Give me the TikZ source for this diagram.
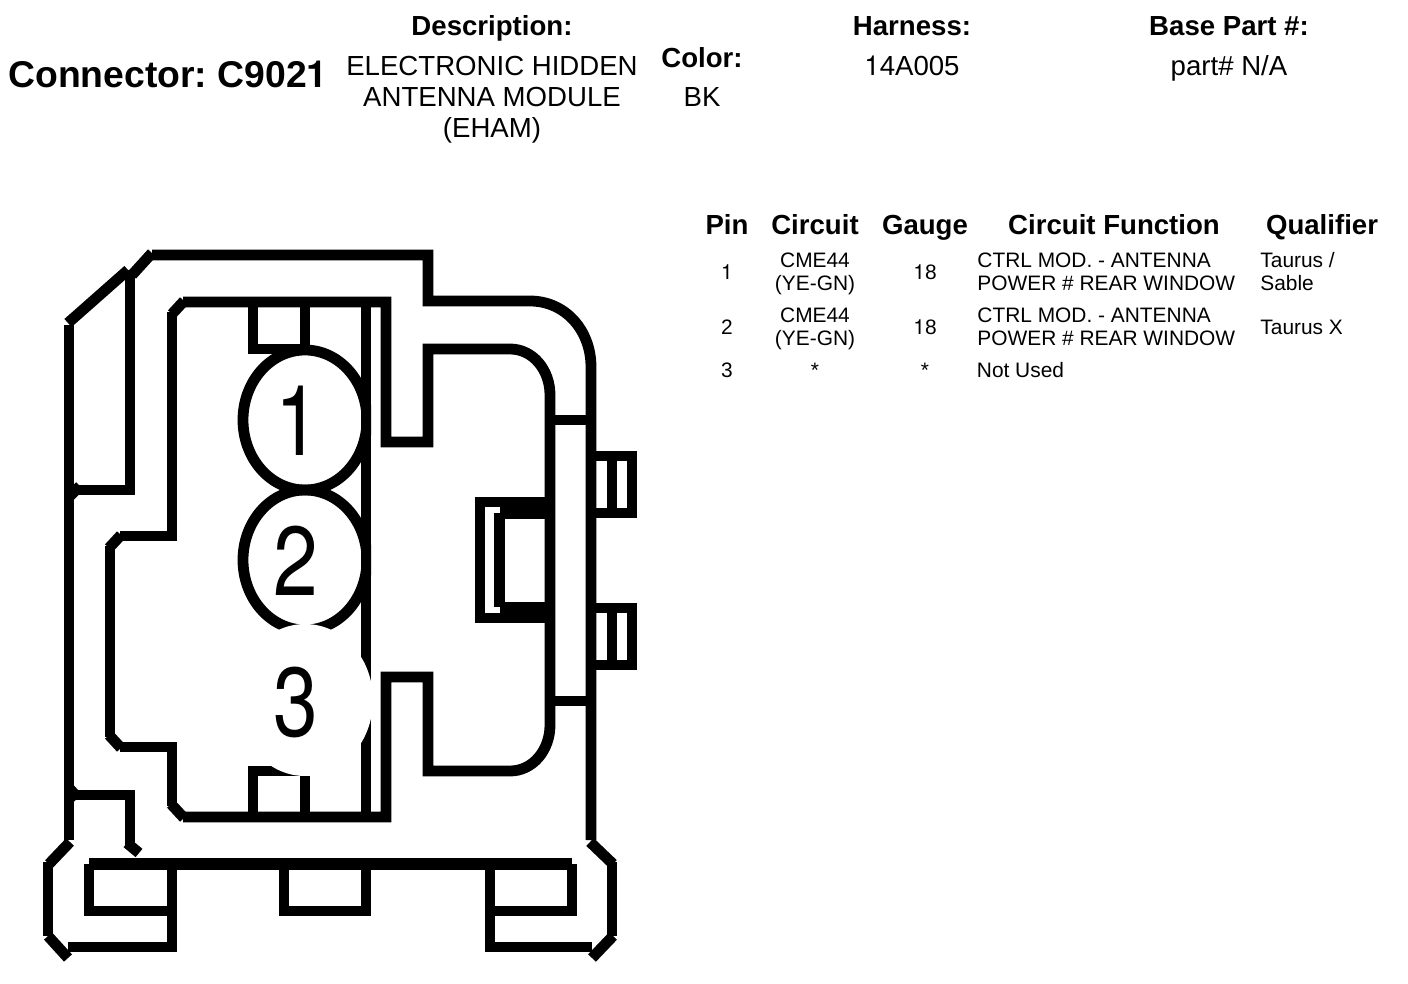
\documentclass[tikz,border=0pt]{standalone}
\usepackage{fontspec}
\setmainfont{Liberation Sans}
\newfontfamily\digitfont{TeX Gyre Heros}
\frenchspacing
\tikzset{
  wire/.style={line width=5.4pt,line join=miter},
  titletext/.style={anchor=base,font=\fontsize{18.65}{20}\selectfont\bfseries,inner sep=0pt},
  headtext/.style={anchor=base,font=\fontsize{13.8}{15}\selectfont\bfseries,inner sep=0pt},
  infotext/.style={anchor=base,font=\fontsize{13.8}{15}\selectfont,inner sep=0pt},
  celltext/.style={anchor=base,font=\fontsize{10.45}{12}\selectfont,inner sep=0pt},
  leftcell/.style={celltext,anchor=base west},
  pinnumber/.style={font=\digitfont\fontsize{49}{50}\selectfont,inner sep=0pt}
}
\begin{document}
\begin{tikzpicture}[x=0.5pt,y=-0.5pt]
    \useasboundingbox (0,0) rectangle (1408,984);

    % outer shell
    \draw[wire] (152,255) -- (428,255) -- (428,301) -- (530,301)
        .. controls (565,301) and (591,330) .. (591,367) -- (591,840);
    \draw[wire] (132,275) -- (152,253);
    \draw[wire] (68,323) -- (128,270);
    \draw[wire] (69,325) -- (69,840);
    \draw[wire] (590,842) -- (613,864);
    \draw[wire] (612,862) -- (612,936);
    \draw[wire] (613,936) -- (592,958);
    \draw[wire] (70,842) -- (49,864);
    \draw[wire] (48,862) -- (48,936);
    \draw[wire] (48,936) -- (68,958);

    % upper latch
    \draw[wire] (130,270) -- (130,490) -- (76,490);
    \draw[wire] (69,497) -- (80,486);

    % lower latch
    \draw[wire] (76,795) -- (130,795) -- (130,846);
    \draw[wire] (127,843) -- (139,853);
    \draw[wire] (69,788) -- (78,798);

    % inner outline
    \draw[wire] (183,302) -- (386,302) -- (386,442) -- (428,442) -- (428,349) -- (510,349)
        .. controls (533,349) and (550,370) .. (550,395) -- (550,725)
        .. controls (550,750) and (533,771) .. (510,771) -- (428,771)
        -- (428,677) -- (386,677) -- (386,817) -- (183,817);
    \draw[wire] (184,301) -- (172,314);
    \draw[wire] (172,312) -- (172,536) -- (120,536);
    \draw[wire] (121,535) -- (109,548);
    \draw[wire] (110,546) -- (110,737);
    \draw[wire] (109,735) -- (121,748);
    \draw[wire] (120,747) -- (172,747) -- (172,806);
    \draw[wire] (171,804) -- (184,818);

    % cavity wall and keys
    \draw[wire] (366,302) -- (366,817);
    \draw[wire] (253,302) -- (253,349) -- (300,349);
    \draw[wire] (305,302) -- (305,349);
    \draw[wire] (253,817) -- (253,771) -- (305,771);
    \draw[wire] (305,817) -- (305,771);

    % pin cavities
    \begin{scope}
        \clip (220,330) rectangle (371,650);
        \draw[wire] (305,420) ellipse (62 and 70);
        \draw[wire] (305,560) ellipse (62 and 70);
    \end{scope}
    \fill[white] (305,700) ellipse (68 and 76);
    \node[pinnumber] (pinone) at (298,421) {\scalebox{.82}[1]{1}};
    \node[pinnumber] (pintwo) at (296,561) {\scalebox{.82}[1]{2}};
    \node[pinnumber] (pinthree) at (296,702) {\scalebox{.82}[1]{3}};

    % side ribs and tabs
    \draw[wire] (550,420) -- (591,420);
    \draw[wire] (550,701) -- (591,701);
    \draw[wire] (591,456) -- (632,456) -- (632,513) -- (591,513);
    \draw[wire] (612,456) -- (612,513);
    \draw[wire] (591,608) -- (632,608) -- (632,665) -- (591,665);
    \draw[wire] (612,608) -- (612,665);

    % clip
    \draw[wire] (550,502) -- (480,502) -- (480,618) -- (550,618);
    \fill (500,502) rectangle (550,519);
    \fill (500,602) rectangle (550,618);
    \draw[line width=5.4pt] (499.5,513) -- (499.5,607);

    % bottom feet
    \draw[wire,line width=5.9pt] (89,864) -- (572,864);
    \draw[wire] (572,864) -- (572,911) -- (490,911);
    \draw[wire] (89,864) -- (89,911) -- (172,911);
    \draw[wire] (172,864) -- (172,947) -- (68,947);
    \draw[wire] (284,864) -- (284,911) -- (366,911) -- (366,864);
    \draw[wire] (490,864) -- (490,947) -- (592,947);

    % header
    \node[titletext] (connector) at (168,88) {Connector: C902{\digitfont 1}};
    \node[headtext] (deschead) at (492,36) {Description:};
    \node[infotext] (descone) at (492,76) {ELECTRONIC HIDDEN};
    \node[infotext] (desctwo) at (492,107) {ANTENNA MODULE};
    \node[infotext] (descthree) at (492,138) {(EHAM)};
    \node[headtext] (colorhead) at (702,68) {Color:};
    \node[infotext] (colorval) at (702,107) {BK};
    \node[headtext] (harnesshead) at (912,36) {Harness:};
    \node[infotext] (harnessval) at (912,76) {{\digitfont 1}4A005};
    \node[headtext] (basehead) at (1229,36) {Base Part \#:};
    \node[infotext] (baseval) at (1229,76) {part\# N/A};

    % table heads
    \node[headtext] (pinhead) at (727,235) {Pin};
    \node[headtext] (circuithead) at (815,235) {Circuit};
    \node[headtext] (gaugehead) at (925,235) {Gauge};
    \node[headtext] (functionhead) at (1114,235) {Circuit Function};
    \node[headtext] (qualhead) at (1322,235) {Qualifier};

    % row 1
    \node[celltext] (pina) at (727,279.5) {{\digitfont 1}};
    \node[celltext] (circaone) at (815,268) {CME44};
    \node[celltext] (circatwo) at (815,291) {(YE-GN)};
    \node[celltext] (gaugea) at (925,279.5) {{\digitfont 1}8};
    \node[leftcell] (funcaone) at (977,268) {CTRL MOD. - ANTENNA};
    \node[leftcell] (funcatwo) at (977,291) {POWER \# REAR WINDOW};
    \node[leftcell] (qualaone) at (1260,268) {Taurus /};
    \node[leftcell] (qualatwo) at (1260,291) {Sable};

    % row 2
    \node[celltext] (pinb) at (727,335) {2};
    \node[celltext] (circbone) at (815,322.5) {CME44};
    \node[celltext] (circbtwo) at (815,345.5) {(YE-GN)};
    \node[celltext] (gaugeb) at (925,335) {{\digitfont 1}8};
    \node[leftcell] (funcbone) at (977,322.5) {CTRL MOD. - ANTENNA};
    \node[leftcell] (funcbtwo) at (977,345.5) {POWER \# REAR WINDOW};
    \node[leftcell] (qualb) at (1260,335) {Taurus X};

    % row 3
    \node[celltext] (pinc) at (727,377.5) {3};
    \node[celltext] (circc) at (815,377.5) {*};
    \node[celltext] (gaugec) at (925,377.5) {*};
    \node[leftcell] (funcc) at (976.5,377.5) {Not Used};
\end{tikzpicture}
\end{document}
